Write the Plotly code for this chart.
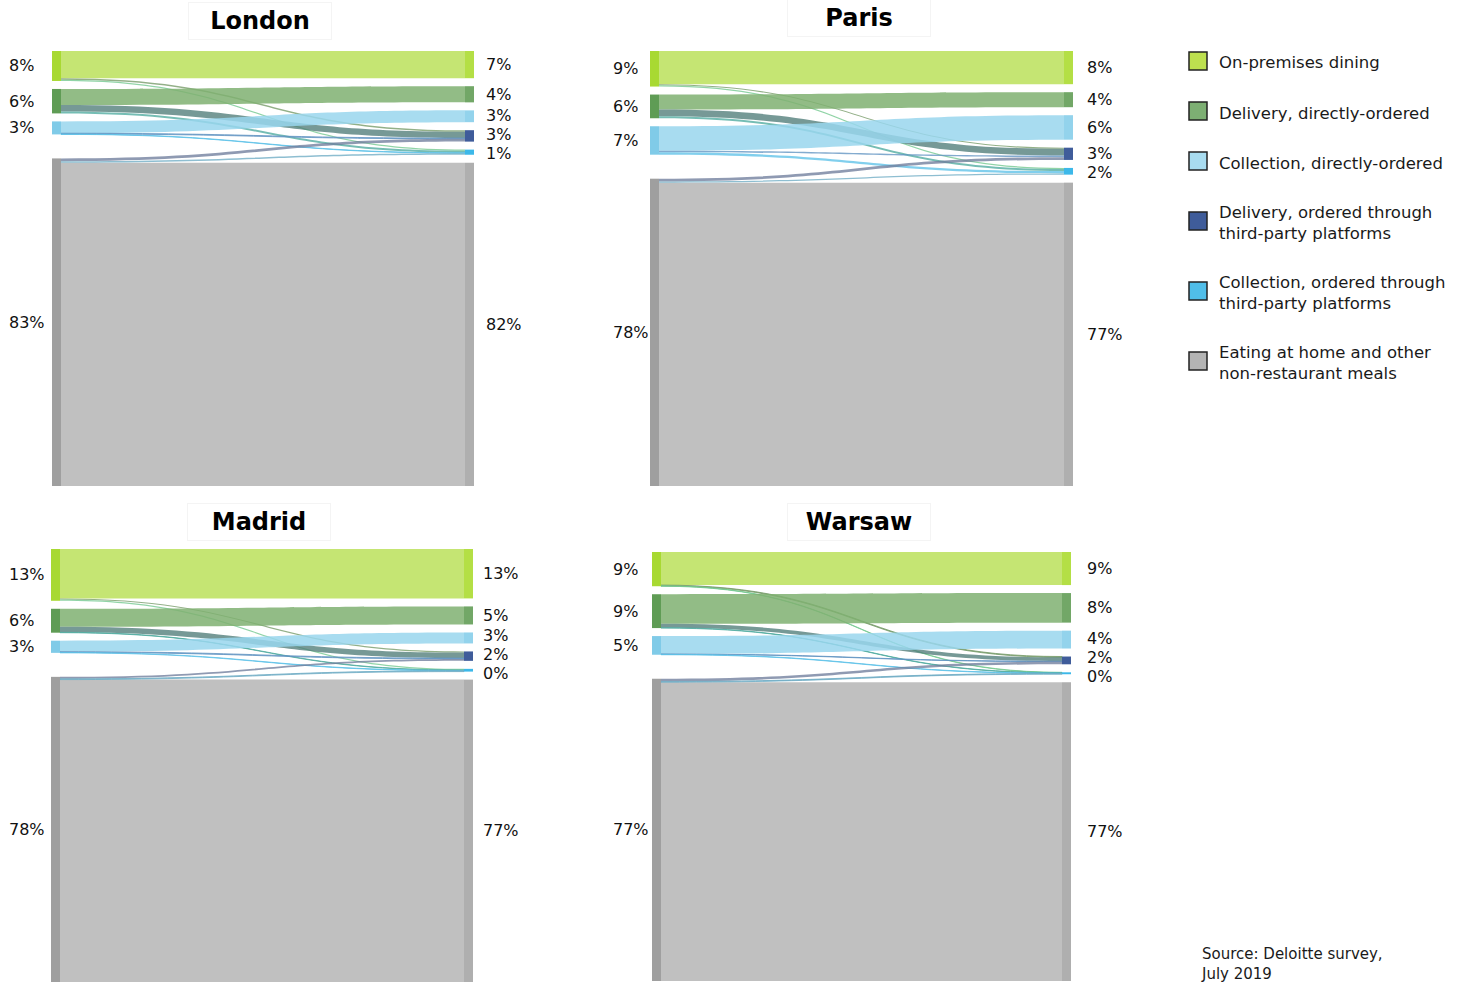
import plotly.graph_objects as go

# ---------------- DATA ----------------
categories = [
    "On-premises dining",
    "Delivery, directly-ordered",
    "Collection, directly-ordered",
    "Delivery, ordered through third-party platforms",
    "Collection, ordered through third-party platforms",
    "Eating at home and other non-restaurant meals",
]
legend_labels = [
    "On-premises dining",
    "Delivery, directly-ordered",
    "Collection, directly-ordered",
    "Delivery, ordered through<br>third-party platforms",
    "Collection, ordered through<br>third-party platforms",
    "Eating at home and other<br>non-restaurant meals",
]
cities = ["London", "Paris", "Madrid", "Warsaw"]

left_cats = [0, 1, 2, 5]          # categories shown in the left column
right_cats = [0, 1, 2, 3, 4, 5]   # categories shown in the right column

# flows: left category -> right category (% of meals)
flow_sources = [0, 0, 0, 1, 1, 1, 2, 2, 2, 5, 5, 5]
flow_targets = [0, 3, 4, 1, 3, 4, 2, 3, 4, 5, 3, 4]
london_flows = [6.9, 0.4, 0.3, 4.1, 1.6, 0.5, 3.0, 0.2, 0.1, 82.0, 0.7, 0.4]
paris_flows = [8.4, 0.3, 0.3, 3.8, 1.7, 0.5, 6.2, 0.4, 0.6, 76.8, 0.7, 0.3]
madrid_flows = [12.6, 0.3, 0.3, 4.6, 1.4, 0.1, 2.8, 0.2, 0.1, 77.1, 0.5, 0.2]
warsaw_flows = [8.5, 0.2, 0.1, 7.6, 1.0, 0.1, 4.6, 0.1, 0.1, 76.8, 0.7, 0.2]

london_left_labels = ["8%", "6%", "3%", "83%"]
london_right_labels = ["7%", "4%", "3%", "3%", "1%", "82%"]
paris_left_labels = ["9%", "6%", "7%", "78%"]
paris_right_labels = ["8%", "4%", "6%", "3%", "2%", "77%"]
madrid_left_labels = ["13%", "6%", "3%", "78%"]
madrid_right_labels = ["13%", "5%", "3%", "2%", "0%", "77%"]
warsaw_left_labels = ["9%", "9%", "5%", "77%"]
warsaw_right_labels = ["9%", "8%", "4%", "2%", "0%", "77%"]

source_text = "Source: Deloitte survey,<br>July 2019"

city_flows = {"London": london_flows, "Paris": paris_flows,
              "Madrid": madrid_flows, "Warsaw": warsaw_flows}
city_left_labels = {"London": london_left_labels, "Paris": paris_left_labels,
                    "Madrid": madrid_left_labels, "Warsaw": warsaw_left_labels}
city_right_labels = {"London": london_right_labels, "Paris": paris_right_labels,
                     "Madrid": madrid_right_labels, "Warsaw": warsaw_right_labels}

# ---------------- STYLE / LAYOUT ----------------
W_PX, H_PX = 1468, 982
FONT = "DejaVu Sans"
PAD = 8
THICK = 9
LABEL_GAP = 19
# pixel boxes: left, right, top, bottom, title centre y, left-label x, right-label x
panels = {
    "London": (52, 474, 51, 486, 21, 9, 486),
    "Paris": (650, 1073, 51, 486, 18, 613, 1087),
    "Madrid": (51, 473, 549, 982, 522, 9, 483),
    "Warsaw": (652, 1071, 552, 981, 522, 613, 1087),
}
node_left_colors = {0: "#a8d932", 1: "#5f9c55", 2: "#80cbe8", 5: "#9f9f9f"}
node_right_colors = {0: "#b4df45", 1: "#72a767", 2: "#93d3ec", 3: "#3f5c9a", 4: "#3cb8e9", 5: "#afafaf"}
band_colors = {0: (197, 229, 115), 1: (146, 188, 134), 2: (168, 220, 240), 5: (192, 192, 192)}
legend_colors = ["#bde04f", "#7daf73", "#a8dcf0", "#3f5c9a", "#50bee9", "#b4b4b4"]


def hex2rgb(h):
    h = h.lstrip("#")
    return tuple(int(h[i:i + 2], 16) for i in (0, 2, 4))


def link_color(s, t):
    if s == t:
        a = 0.85
        c = band_colors[s]
        base = [round(255 - (255 - v) / a) for v in c]
        return "rgba(%d,%d,%d,%.2f)" % (base[0], base[1], base[2], a)
    c1 = hex2rgb(node_left_colors[s])
    c2 = hex2rgb(node_right_colors[t])
    m = [round(0.5 * a + 0.5 * b) for a, b in zip(c1, c2)]
    return "rgba(%d,%d,%d,0.78)" % (m[0], m[1], m[2])


def spread(ys, cats):
    """Nudge label positions apart (symmetrically) so they don't collide."""
    out = list(ys)
    idx = [i for i, c in enumerate(cats) if c != 5]
    for _ in range(30):
        moved = False
        for a, b in zip(idx[:-1], idx[1:]):
            d = out[b] - out[a]
            if d < LABEL_GAP - 0.01:
                s = (LABEL_GAP - d) / 2
                out[a] -= s
                out[b] += s
                moved = True
        if not moved:
            break
    return out


fig = go.Figure()
annotations = []
shapes = []

for city in cities:
    flows = city_flows[city]
    l, r, t, b, ty, lx, rx = panels[city]
    Wd, Hd = r - l, b - t
    left_vals = [sum(v for s, v in zip(flow_sources, flows) if s == c) for c in left_cats]
    right_vals = [sum(v for tg, v in zip(flow_targets, flows) if tg == c) for c in right_cats]
    ky = min((Hd - (len(left_cats) - 1) * PAD) / sum(left_vals),
             (Hd - (len(right_cats) - 1) * PAD) / sum(right_vals))

    def centers(vals, cats):
        out = []
        top = 0.0
        for v, c in zip(vals, cats):
            h = v * ky
            if c == 5:
                out.append(Hd - h / 2)
            else:
                out.append(top + h / 2)
                top += h + PAD
        return out

    lc = centers(left_vals, left_cats)
    rc = centers(right_vals, right_cats)

    node_x = [(THICK / 2) / Wd] * len(left_cats) + [1 - (THICK / 2) / Wd] * len(right_cats)
    node_y = [y / Hd for y in lc] + [y / Hd for y in rc]
    node_colors = [node_left_colors[c] for c in left_cats] + [node_right_colors[c] for c in right_cats]
    src_idx = [left_cats.index(s) for s in flow_sources]
    tgt_idx = [len(left_cats) + right_cats.index(tg) for tg in flow_targets]

    fig.add_trace(go.Sankey(
        arrangement="fixed",
        domain=dict(x=[l / W_PX, r / W_PX], y=[1 - b / H_PX, 1 - t / H_PX]),
        node=dict(
            pad=PAD, thickness=THICK,
            label=[""] * (len(left_cats) + len(right_cats)),
            customdata=[categories[c] for c in left_cats] + [categories[c] for c in right_cats],
            hovertemplate="%{customdata}: %{value:.1f}%<extra></extra>",
            x=node_x, y=node_y, color=node_colors,
            line=dict(width=0),
        ),
        link=dict(
            source=src_idx, target=tgt_idx, value=flows,
            color=[link_color(s, tg) for s, tg in zip(flow_sources, flow_targets)],
            hovertemplate="%{value:.1f}%<extra></extra>",
        ),
    ))

    for lab, y in zip(city_left_labels[city], spread(lc, left_cats)):
        annotations.append(dict(
            x=(lx - 1) / W_PX, y=1 - (t + y) / H_PX, xref="paper", yref="paper",
            text=lab, showarrow=False, xanchor="left", yanchor="middle",
            borderpad=0, height=15,
            font=dict(family=FONT, size=16, color="#111111")))
    for lab, y in zip(city_right_labels[city], spread(rc, right_cats)):
        annotations.append(dict(
            x=(rx - 1) / W_PX, y=1 - (t + y) / H_PX, xref="paper", yref="paper",
            text=lab, showarrow=False, xanchor="left", yanchor="middle",
            borderpad=0, height=15,
            font=dict(family=FONT, size=16, color="#111111")))

    annotations.append(dict(
        x=((l + r) / 2 - 3) / W_PX, y=1 - ty / H_PX, xref="paper", yref="paper",
        text="<b>%s</b>" % city, showarrow=False, xanchor="center", yanchor="middle",
        width=140, height=34, bordercolor="#f4f4f4", borderwidth=1,
        font=dict(family=FONT, size=24, color="#000000")))

# legend (drawn manually)
y_c = 61
prev_lines = None
for i, lab in enumerate(legend_labels):
    lines = lab.count("<br>") + 1
    if prev_lines is not None:
        y_c += 50 + 10 * (prev_lines - 1) + 10 * (lines - 1)
    prev_lines = lines
    shapes.append(dict(type="rect", xref="paper", yref="paper",
                       x0=1189 / W_PX, x1=1207 / W_PX,
                       y0=1 - (y_c - 9) / H_PX, y1=1 - (y_c + 9) / H_PX,
                       fillcolor=legend_colors[i], line=dict(color="#222222", width=1.5)))
    annotations.append(dict(
        x=1217 / W_PX, y=1 - (y_c + 2) / H_PX, xref="paper", yref="paper",
        text=lab, showarrow=False, xanchor="left", yanchor="middle", align="left",
        font=dict(family=FONT, size=16.5, color="#1a1a1a")))

annotations.append(dict(
    x=1199 / W_PX, y=1 - 943 / H_PX, xref="paper", yref="paper",
    text=source_text, showarrow=False, xanchor="left", yanchor="top", align="left",
    font=dict(family=FONT, size=15, color="#1a1a1a")))

fig.update_layout(
    width=W_PX, height=H_PX,
    margin=dict(l=0, r=0, t=0, b=0),
    paper_bgcolor="white", plot_bgcolor="white",
    font=dict(family=FONT),
    annotations=annotations, shapes=shapes,
    showlegend=False,
)

fig.write_html("out.html")
